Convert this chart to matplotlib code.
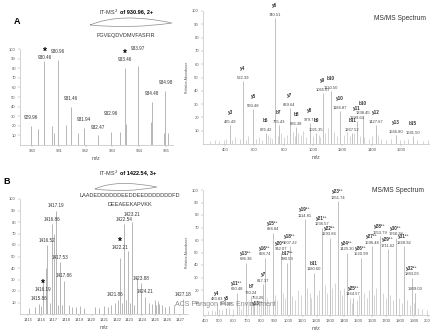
import matplotlib.pyplot as plt
from matplotlib.path import Path
from matplotlib.patches import PathPatch

plt.rcParams['font.family'] = ['Liberation Sans', 'DejaVu Sans']

W, H = 430, 333  # figure size in pixels

# ---------------- Panel A: precursor cluster (IT-MS2 of 930.96, 2+) ----------------
a_ms_mz = [929.96, 930.22, 930.46, 930.75, 930.83, 930.96, 931.27, 931.46, 931.72, 931.94,
           932.47, 932.96, 933.30, 933.46, 933.52, 933.97, 934.44, 934.48, 934.92, 934.98, 935.08]
a_ms_int = [20, 17, 87, 20, 12, 89, 21, 40, 12, 18,
            10, 14, 14, 80, 22, 82, 24, 45, 12, 56, 13]
a_ms_labels = [929.96, 930.46, 930.96, 931.46, 931.94, 932.47, 932.96, 933.46, 933.97, 934.48, 934.98]
a_ms_stars = [930.46, 933.46]

# ---------------- Panel A: MS/MS spectrum ----------------
a_ion_names = ["y3", "y4", "y5", "b6", "y6", "b7", "y7", "b8", "y8", "b9",
               "y9", "b10", "y10", "b11", "y11", "b10", "y12", "y13", "b15"]
a_ion_mz = [435.49, 522.39, 593.48, 676.42, 740.51, 765.43, 839.64, 886.38, 979.71, 1021.35,
            1065.67, 1120.50, 1184.87, 1267.52, 1299.64, 1338.45, 1427.67, 1566.80, 1681.50]
a_ion_int = [14, 47, 26, 8, 95, 14, 27, 13, 16, 8,
             38, 40, 25, 8, 17, 21, 14, 7, 6]
a_noise_mz = [300, 330, 360, 390, 410, 450, 470, 500, 540, 560, 610, 630, 650, 690, 705, 720,
              760, 780, 800, 820, 860, 875, 900, 915, 930, 950, 1000, 1040, 1050, 1080, 1100,
              1140, 1160, 1210, 1230, 1250, 1280, 1320, 1350, 1380, 1400, 1440, 1460, 1500,
              1530, 1590, 1620, 1650, 1710, 1750, 1780]
a_noise_int = [2, 3, 2, 3, 4, 3, 5, 4, 3, 6, 4, 5, 3, 7, 5, 4,
               6, 8, 5, 7, 9, 6, 8, 7, 10, 5, 6, 7, 5, 8, 12,
               9, 6, 7, 9, 6, 8, 6, 5, 4, 6, 7, 4, 3,
               4, 3, 3, 4, 3, 2, 3]

# ---------------- Panel B: precursor cluster (IT-MS2 of 1422.54, 3+) ----------------
b_ms_mz = [1415.10, 1415.55, 1415.86, 1416.02, 1416.19, 1416.37, 1416.52, 1416.70, 1416.86, 1417.03,
           1417.19, 1417.36, 1417.53, 1417.70, 1417.86, 1418.19, 1418.45, 1418.75, 1419.05, 1419.40,
           1420.25, 1420.55, 1420.95, 1421.30, 1421.55, 1421.86, 1422.05, 1422.21, 1422.38, 1422.54,
           1422.71, 1422.88, 1423.05, 1423.21, 1423.38, 1423.55, 1423.88, 1424.21, 1424.55, 1424.80,
           1425.00, 1425.10, 1425.20, 1425.35, 1425.55, 1425.75, 1426.10, 1426.50, 1427.18]
b_ms_int = [5, 6, 9, 7, 29, 40, 60, 10, 78, 70,
            90, 8, 45, 8, 29, 8, 6, 6, 7, 5,
            6, 5, 7, 6, 8, 10, 12, 49, 10, 78,
            12, 55, 10, 80, 8, 32, 27, 15, 10, 9,
            12, 8, 11, 9, 8, 6, 7, 8, 13]
b_ms_labels = [1415.86, 1416.19, 1416.52, 1416.86, 1417.19, 1417.53, 1417.86, 1421.86,
               1422.21, 1422.54, 1423.21, 1423.88, 1424.21, 1427.18]
b_ms_stars = [1416.19, 1422.21]

# ---------------- Panel B: MS/MS spectrum ----------------
b_ion_names = ["y4", "y5", "y11²⁺", "y13²⁺", "b7", "y13³⁺", "y7", "y16²⁺", "y15²⁺", "y20²⁺",
               "b17²⁺", "y18²⁺", "y19²⁺", "b11", "y21²⁺", "y22²⁺", "y23²⁺", "y24²⁺", "y25²⁺",
               "y26²⁺", "y27²⁺", "y28²⁺", "y29²⁺", "y30²⁺", "y31²⁺", "y32²⁺", ""]
b_ion_mz = [483.83, 554.39, 630.48, 696.38, 730.24, 753.26, 817.37, 828.74, 884.84, 942.07,
            990.59, 1007.22, 1114.81, 1180.60, 1236.57, 1293.84, 1351.74, 1420.30, 1464.57,
            1520.99, 1596.48, 1653.79, 1711.62, 1768.28, 1828.92, 1883.03, 1909.03]
b_ion_int = [10, 6, 18, 42, 15, 11, 25, 46, 66, 50,
             42, 55, 77, 34, 70, 62, 91, 50, 14,
             46, 55, 63, 53, 62, 55, 30, 18]
b_noise_mz = [420, 450, 470, 500, 520, 575, 600, 645, 660, 675, 710, 745, 770, 790, 805, 845,
              860, 900, 920, 960, 975, 1025, 1045, 1070, 1090, 1130, 1150, 1160, 1200, 1215,
              1260, 1275, 1310, 1330, 1370, 1385, 1400, 1440, 1455, 1490, 1505, 1540, 1560,
              1575, 1615, 1630, 1680, 1695, 1730, 1750, 1790, 1810, 1850, 1870, 1900, 1930,
              1960, 1990]
b_noise_int = [3, 4, 3, 5, 4, 6, 5, 7, 5, 9, 8, 10, 12, 9, 11, 14,
               10, 16, 12, 18, 14, 15, 12, 20, 16, 22, 18, 14, 16, 20,
               24, 18, 22, 26, 20, 16, 22, 14, 10, 12, 16, 18, 14,
               20, 16, 22, 18, 14, 16, 12, 14, 10, 12, 8, 10, 6,
               5, 4]

fig = plt.figure(figsize=(W / 100, H / 100), dpi=100)


def px_axes(left, top, right, bottom):
    return fig.add_axes([left / W, 1 - bottom / H, (right - left) / W, (bottom - top) / H])


def style(ax):
    for side in ("top", "right"):
        ax.spines[side].set_visible(False)
    for side in ("left", "bottom"):
        ax.spines[side].set_color("#b0b0b0")
        ax.spines[side].set_linewidth(0.4)
    ax.tick_params(labelsize=3, length=1.5, width=0.3, color="#999999",
                   labelcolor="#555555", pad=1.5)
    ax.set_yticks(range(10, 101, 10))
    ax.set_ylim(0, 100)


def fig_text(x, y, s, **kw):
    fig.text(x / W, 1 - y / H, s, **kw)


def swoosh(x0, y0, x1, y1, up, down):
    # decorative fragmentation arc above the peptide sequence
    xm = (x0 + x1) / 2
    verts = [(x0, y0), (xm - 10, up), (x1, y1), (xm, down), (x0, y0)]
    verts = [(x / W, 1 - y / H) for x, y in verts]
    path = Path(verts, [Path.MOVETO, Path.CURVE3, Path.CURVE3, Path.CURVE3, Path.CURVE3])
    fig.add_artist(PathPatch(path, transform=fig.transFigure, facecolor="none",
                             edgecolor="#8c8c8c", lw=0.5))


def precursor(ax, mz, inten, labels, stars, nudge, dy):
    ax.vlines(mz, 0, inten, colors="#9a9a9a", lw=0.5)
    height = dict(zip(mz, inten))
    for m in labels:
        off = dy + nudge.get(m, 0)
        ax.annotate(f"{m:.2f}", (m, height[m]), xytext=(0, off), textcoords="offset points",
                    ha="center", va="center", fontsize=3.3, color="#333333")
        if m in stars:
            ax.annotate("*", (m, height[m]), xytext=(0, off + 4), textcoords="offset points",
                        ha="center", va="center", fontsize=7, fontweight="bold")


def msms(ax, names, mz, inten, noise_mz, noise_int, gap, below=()):
    ax.vlines(noise_mz, 0, noise_int, colors="#b5b5b5", lw=0.4)
    ax.vlines(mz, 0, inten, colors="#a8a8a8", lw=0.5)
    for n, m, v in zip(names, mz, inten):
        dx = 3 if n in below else 0
        ax.annotate(f"{m:.2f}", (m, v), xytext=(dx, 0.8), textcoords="offset points",
                    ha="center", va="bottom", fontsize=3, color="#444444")
        if n:
            ny = -3.2 if n in below else 0.8 + gap
            ax.annotate(n, (m, v), xytext=(dx, ny), textcoords="offset points",
                        ha="center", va="bottom", fontsize=3.3, fontweight="bold",
                        color="#333333")
    ax.set_ylabel("Relative Abundance", fontsize=2.5, color="#555555", labelpad=2)


# ----- A left -----
axA1 = px_axes(20, 49, 173, 145)
style(axA1)
axA1.set_xlim(929.55, 935.26)
axA1.set_xticks(range(930, 936))
precursor(axA1, a_ms_mz, a_ms_int, a_ms_labels, a_ms_stars,
          {930.46: -3, 932.96: 7, 933.97: 7}, 6)
axA1.set_xlabel("m/z", fontsize=4, color="#555555", labelpad=2)

# ----- A right -----
axA2 = px_axes(203, 11, 430, 144)
style(axA2)
axA2.set_xlim(250, 1797)
axA2.set_xticks(range(400, 1601, 200))
msms(axA2, a_ion_names, a_ion_mz, a_ion_int, a_noise_mz, a_noise_int, 6.5)
axA2.set_xlabel("m/z", fontsize=4, color="#555555", labelpad=2)

# ----- B left -----
axB1 = px_axes(20, 199, 188, 314)
style(axB1)
axB1.set_xlim(1414.36, 1427.6)
axB1.set_xticks(range(1415, 1428))
precursor(axB1, b_ms_mz, b_ms_int, b_ms_labels, b_ms_stars,
          {1416.19: -10, 1422.21: 4, 1421.86: 2, 1423.21: 2, 1424.21: 0}, 3.5)
axB1.set_xlabel("m/z", fontsize=4, color="#555555", labelpad=2)

# ----- B right -----
axB2 = px_axes(203, 190, 430, 315)
style(axB2)
axB2.set_xlim(386, 2014)
axB2.set_xticks(range(400, 2001, 100))
msms(axB2, b_ion_names, b_ion_mz, b_ion_int, b_noise_mz, b_noise_int, 4.2, below=("y13³⁺",))
axB2.set_xlabel("m/z", fontsize=4, color="#555555", labelpad=2)

# ----- annotations -----
fig_text(17, 22, "A", fontsize=6.5, fontweight="bold", ha="center", va="center")
fig_text(7, 181, "B", fontsize=6.5, fontweight="bold", ha="center", va="center")

fig_text(118, 12, "IT-MS$^2$", fontsize=4, ha="right", va="center", color="#333333")
fig_text(120, 12, "of 930.96, 2+", fontsize=4, fontweight="bold", ha="left", va="center")
swoosh(90, 25, 172, 23, 12, 29)
fig_text(126, 35, "FGVEQDVDMVFASFIR", fontsize=4, ha="center", va="center", color="#333333")

fig_text(118, 173, "IT-MS$^2$", fontsize=4, ha="right", va="center", color="#333333")
fig_text(120, 173, "of 1422.54, 3+", fontsize=4, fontweight="bold", ha="left", va="center")
swoosh(95, 189, 157, 187, 179, 193)
fig_text(130, 196, "LAADEDDDDDDEEDDEEDDDDDDDFD", fontsize=4, ha="center", va="center",
         color="#333333")
fig_text(130, 204, "DEEAEEKAPVKK", fontsize=4, ha="center", va="center", color="#333333")

fig_text(400, 18, "MS/MS Spectrum", fontsize=4.8, ha="center", va="center", color="#333333")
fig_text(398, 191, "MS/MS Spectrum", fontsize=4.8, ha="center", va="center", color="#333333")

fig_text(225, 304, "ACS Paragon Plus Environment", fontsize=5, ha="center", va="center",
         color="#8a8a8a")

fig.savefig("out.png", dpi=100)
